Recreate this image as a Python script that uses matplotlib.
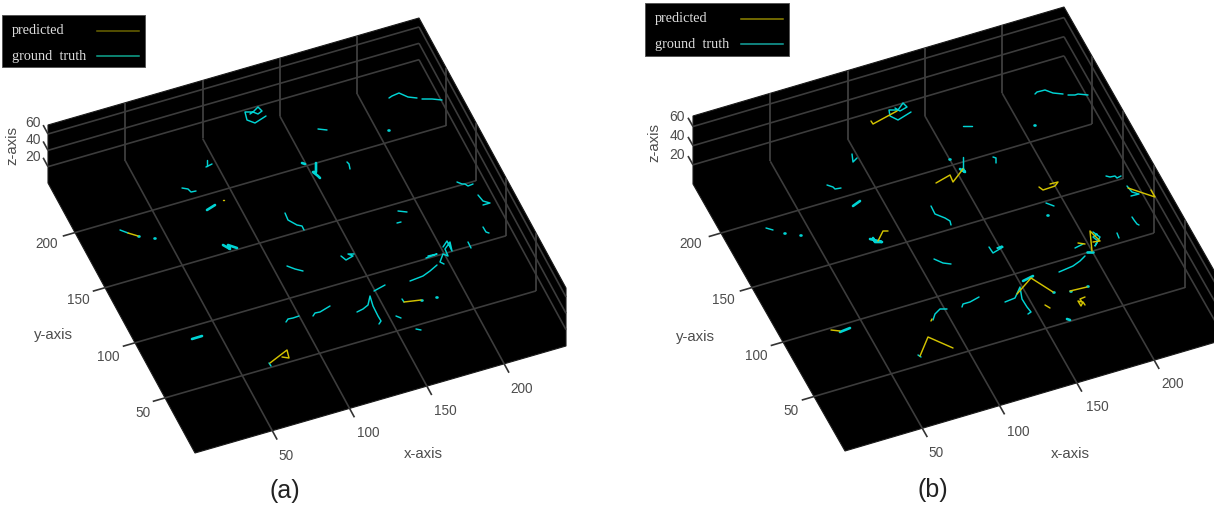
import matplotlib
matplotlib.use("Agg")
import numpy as np
import matplotlib.pyplot as plt
from matplotlib.patches import Polygon, Rectangle

W, H = 1214, 506

x_ticks = [50, 100, 150, 200]
y_ticks = [50, 100, 150, 200]
z_ticks = [20, 40, 60]
x_max, y_max, z_max = 240, 245, 71

# tracks, in picture pixels
truth_a = [
    [(266, 117), (255, 124), (247, 121), (245, 113), (253, 113), (258, 108), (262, 112), (258, 115), (253, 113), (250, 115)],
    [(389, 99), (392, 97), (399, 94), (408, 98), (417, 99)],
    [(422, 100), (428, 100), (432, 100), (442, 101)],
    [(318, 130), (327, 131)],
    [(347, 163), (349, 165), (350, 170)],
    [(206, 168), (212, 165)],
    [(207, 161), (207, 167)],
    [(285, 214), (288, 221), (297, 226), (302, 227), (304, 231)],
    [(398, 212), (407, 213)],
    [(397, 224), (401, 223)],
    [(457, 183), (462, 185), (465, 185), (468, 187), (473, 185)],
    [(478, 196), (483, 202), (490, 204), (483, 206)],
    [(483, 228), (486, 233), (489, 234)],
    [(182, 189), (188, 190), (191, 193), (196, 192)],
    [(120, 231), (128, 234)],
    [(287, 267), (295, 270), (303, 272)],
    [(286, 323), (288, 320), (293, 319), (299, 317)],
    [(313, 317), (315, 314), (320, 313), (330, 307)],
    [(357, 313), (363, 310), (368, 306), (370, 297), (373, 307), (378, 317), (381, 322), (379, 325)],
    [(374, 292), (385, 286)],
    [(341, 257), (346, 261), (353, 257), (348, 255), (354, 255)],
    [(410, 282), (423, 277), (430, 272), (437, 266)],
    [(426, 259), (437, 255), (428, 257)],
    [(443, 248), (447, 242), (452, 252), (450, 243), (445, 250), (448, 257), (443, 255), (440, 263), (444, 265)],
    [(468, 243), (471, 249)],
    [(396, 317), (401, 319)],
    [(416, 330), (421, 331)],
    [(402, 300), (404, 303)],
    [(269, 364), (271, 367)],
]
thick_a = [
    [(302, 164), (305, 165)],
    [(316, 164), (316, 173), (313, 173), (318, 177), (320, 179)],
    [(207, 211), (215, 206)],
    [(223, 246), (230, 250), (228, 246), (237, 249)],
    [(192, 340), (202, 337)],
    [(388, 131), (388.5, 131)],
    [(154, 239), (154.5, 239)],
    [(436, 298), (436.5, 298)],
    [(138, 237), (138.5, 237)],
    [(421, 301), (421.5, 301)],
]
pred_a = [
    [(128, 234), (138, 237)],
    [(223, 201), (223.5, 201)],
    [(404, 303), (421, 301)],
    [(270, 364), (287, 351), (289, 359), (282, 358)],
]

truth_b = [
    [(911, 113), (898, 121), (890, 117), (889, 111), (898, 111), (903, 104), (907, 108), (900, 112), (895, 109)],
    [(963, 127), (972, 127)],
    [(963, 158), (963, 170)],
    [(993, 158), (996, 159), (996, 164)],
    [(852, 155), (853, 163), (857, 159)],
    [(827, 186), (833, 188), (835, 190), (841, 189)],
    [(931, 207), (935, 215), (945, 219), (950, 222), (951, 226)],
    [(1035, 95), (1037, 93), (1045, 91), (1053, 94), (1063, 95)],
    [(1068, 96), (1075, 96), (1078, 95), (1088, 96)],
    [(1106, 177), (1110, 178), (1115, 177), (1117, 179), (1121, 177)],
    [(1127, 187), (1132, 193), (1139, 195), (1131, 197)],
    [(1132, 218), (1134, 221), (1137, 225), (1139, 226)],
    [(1117, 234), (1119, 239)],
    [(1093, 233), (1100, 238), (1095, 247), (1098, 242), (1093, 238), (1097, 235)],
    [(1075, 249), (1083, 245)],
    [(1059, 273), (1073, 267), (1080, 262), (1085, 257)],
    [(1046, 204), (1054, 207)],
    [(934, 260), (943, 264), (951, 265)],
    [(989, 248), (993, 254), (1003, 248), (997, 249), (1002, 247)],
    [(1005, 303), (1015, 299), (1020, 288), (1022, 300), (1027, 308), (1031, 313), (1028, 315)],
    [(962, 308), (963, 305), (970, 303), (979, 298)],
    [(947, 310), (940, 310), (935, 315), (933, 321)],
    [(766, 229), (773, 231)],
    [(918, 356), (921, 358)],
]
thick_b = [
    [(960, 170), (965, 173), (963, 170)],
    [(853, 207), (860, 202)],
    [(870, 240), (882, 243), (875, 243), (873, 239)],
    [(1023, 282), (1033, 277)],
    [(1087, 253), (1093, 253)],
    [(840, 333), (850, 329)],
    [(949, 160), (949.5, 160)],
    [(1034, 126), (1034.5, 126)],
    [(1047, 216), (1047.5, 216)],
    [(784, 234), (784.5, 234)],
    [(800, 236), (800.5, 236)],
    [(1053, 293), (1053.5, 293)],
    [(1070, 292), (1070.5, 292)],
    [(1087, 287), (1087.5, 287)],
    [(1067, 320), (1070, 321)],
]
pred_b = [
    [(897, 112), (873, 125), (871, 122)],
    [(963, 170), (953, 183), (950, 176), (936, 184)],
    [(1039, 188), (1043, 191), (1055, 187), (1058, 183), (1050, 185)],
    [(1128, 189), (1155, 198), (1151, 191)],
    [(1092, 252), (1090, 232), (1100, 242), (1093, 243)],
    [(1078, 244), (1085, 245)],
    [(878, 242), (883, 232), (888, 232)],
    [(1017, 295), (1031, 279), (1053, 293)],
    [(1070, 292), (1087, 288)],
    [(1085, 298), (1080, 300), (1082, 303), (1078, 302), (1081, 307), (1083, 303), (1085, 306)],
    [(1045, 306), (1050, 309)],
    [(932, 320), (931, 322)],
    [(831, 331), (840, 332)],
    [(920, 357), (928, 338), (953, 349)],
]

plt.rcParams["font.family"] = ["Liberation Sans", "DejaVu Sans"]

fig = plt.figure(figsize=(W / 100, H / 100), dpi=100)
ax = fig.add_axes([0, 0, 1, 1])
ax.set_xlim(0, W)
ax.set_ylim(H, 0)
ax.axis("off")

GRID = "#3c3c3c"
WALL = "#444444"
TICK = "#333333"
LABEL = "#4d4d4d"
CYAN = "#00d4d4"
YELLOW = "#d2c200"


def seg(p, q, color=GRID, lw=1.2, z=2):
    ax.plot([p[0], q[0]], [p[1], q[1]], color=color, lw=lw, zorder=z, solid_capstyle="butt")


def draw_box(o, xv, yv, zh):
    o, xv, yv = np.array(o, float), np.array(xv, float), np.array(yv, float)
    up = np.array([0, -zh], float)
    outline = [o + up, o + xv + up, o + xv + yv + up, o + xv + yv, o + yv, o]
    ax.add_patch(Polygon(outline, closed=True, fc="black", ec="#1c1c1c", lw=0.8, zorder=1))
    for v in x_ticks:
        a = o + xv * v / x_max
        b = a + yv
        seg(a + up, a, color=WALL)
        seg(a, b)
        seg(b, b + yv * 0.033, color=TICK)
    for v in y_ticks:
        a = o + yv * (1 - v / y_max)
        b = a + xv
        seg(a, b)
        seg(b, b + up, color=WALL)
        seg(a, a - xv * 0.033, color=TICK)
    for v in z_ticks:
        a = o + up * v / z_max
        b = a + xv
        seg(a, b)
        seg(b, b + yv)
        seg(a, a - yv * 0.033, color=TICK)


def draw_tracks(tracks, color, lw, z):
    for t in tracks:
        px = [p[0] for p in t]
        py = [p[1] for p in t]
        ax.plot(px, py, color=color, lw=lw, zorder=z, solid_capstyle="round", solid_joinstyle="round")


def label(x, y, s, size=9.8, rot=0, color=LABEL):
    ax.text(x, y, s, fontsize=size, color=color, rotation=rot, ha="center", va="center", zorder=6)


def draw_legend(x0, y0, x1, y1, tx, ty1, ty2, lx0, lx1, ly1, ly2, c1, c2):
    ax.add_patch(Rectangle((x0, y0), x1 - x0, y1 - y0, fc="black", ec="#555555", lw=0.7, zorder=7))
    ax.plot([lx0, lx1], [ly1, ly1], color=c1, lw=1.1, zorder=8)
    ax.plot([lx0, lx1], [ly2, ly2], color=c2, lw=1.1, zorder=8)
    for yy, s in ((ty1, "predicted"), (ty2, "ground  truth")):
        ax.text(tx, yy, s, fontsize=10.3, color="#dcdcdc", family="Liberation Serif", ha="left", va="center", zorder=8)


# panel (a)
draw_box((48, 184), (371, -107), (147, 270), 58)
draw_tracks(truth_a, CYAN, 1.05, 3)
draw_tracks(thick_a, CYAN, 1.9, 3)
draw_tracks(pred_a, YELLOW, 1.05, 4)
draw_legend(2, 16, 145, 68, 12, 30, 56, 97, 139, 32, 57, "#6b6400", "#0fa68f")

label(12, 145, "z-axis", 10.8, 90)
for v, yy in zip(z_ticks, [157, 140, 123]):
    label(33, yy, str(v), 10)
label(53, 335, "y-axis", 10.8)
for v, xx, yy in zip(y_ticks, [143, 108, 78, 47], [413, 357, 300, 244]):
    label(xx, yy, str(v))
for v, xx, yy in zip(x_ticks, [286, 368, 445, 522], [456, 433, 411, 389]):
    label(xx, yy, str(v))
label(423, 454, "x-axis", 10.8)
label(285, 491, "(a)", 18, color="#222222")

# panel (b)
draw_box((693, 185), (371, -109), (152, 267), 68)
draw_tracks(truth_b, CYAN, 1.05, 3)
draw_tracks(thick_b, CYAN, 1.9, 3)
draw_tracks(pred_b, YELLOW, 1.05, 4)
draw_legend(645, 4, 789, 57, 655, 18, 44, 741, 783, 20, 45, "#8f8500", "#14a5a0")

label(654, 142, "z-axis", 10.8, 90)
for v, yy in zip(z_ticks, [155, 136, 117]):
    label(677, yy, str(v), 10)
label(695, 337, "y-axis", 10.8)
for v, xx, yy in zip(y_ticks, [791, 756, 723, 691], [411, 356, 300, 244]):
    label(xx, yy, str(v))
for v, xx, yy in zip(x_ticks, [936, 1018, 1097, 1173], [453, 432, 407, 384]):
    label(xx, yy, str(v))
label(1070, 454, "x-axis", 10.8)
label(933, 490, "(b)", 18, color="#222222")

fig.savefig("out.png", dpi=100, facecolor="white")
